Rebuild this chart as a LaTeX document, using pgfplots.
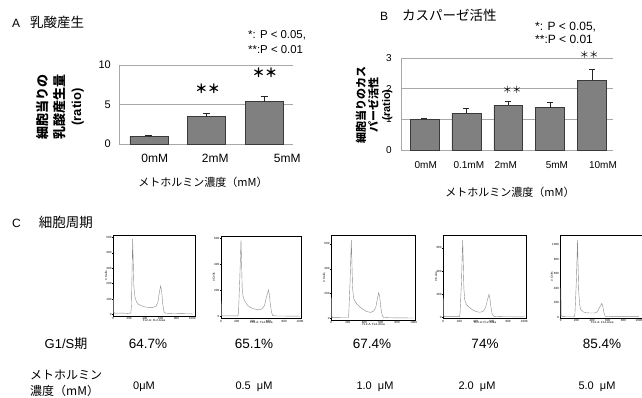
\documentclass[border=0pt]{standalone}
\usepackage{fontspec}
\setmainfont{Liberation Sans}
\newfontfamily\jp{Noto Sans CJK JP}
\usepackage{pgfplots}
\pgfplotsset{compat=1.18}
\definecolor{barfill}{HTML}{808080}
\definecolor{bardraw}{HTML}{3A3A3A}
\definecolor{gridc}{HTML}{A8A8A8}
\definecolor{histc}{HTML}{8A8A8A}
\pgfplotsset{
  hist/.style={scale only axis, anchor=south west,
    axis line style={black, line width=0.5pt},
    tick style={black, line width=0.3pt}, tick align=outside, major tick length=1.2pt,
    xtick pos=bottom, ytick pos=left,
    /pgf/number format/assume math mode=true, /pgf/number format/1000 sep={},
    ticklabel style={font=\fontsize{3}{3.5}\selectfont, inner sep=0.4pt},
    xtick={0,200,...,1000},
    xlabel={FL2-A: FL2-Area}, ylabel={\# Cells},
    label style={font=\fontsize{3}{3.5}\selectfont, inner sep=0.3pt},
    xlabel style={yshift=1.5pt}, ylabel style={yshift=-1.5pt},
    cycle list={{histc, line width=0.6pt}}, no markers},
  bars/.style={scale only axis, anchor=south west,
    axis x line=bottom, axis y line=left, axis line style={gridc, -, line width=0.7pt},
    ymajorgrids, grid style={gridc, line width=0.7pt},
    major tick length=0pt, clip=false,
    /pgf/number format/assume math mode=true,
    ybar, bar shift=0pt}
}
\begin{document}
\begin{tikzpicture}
\path[use as bounding box] (0,0) rectangle (642pt,398pt);
% ---------------- Panel A ----------------
\begin{axis}[bars, at={(119pt,254pt)}, width=174pt, height=79pt,
  xmin=-0.52, xmax=2.5, ymin=0, ymax=10, ytick={0,5,10},
  xtick={0.1,1.15,2.4}, xticklabels={0mM,2mM,5mM},
  yticklabel style={font=\fontsize{11}{13}\selectfont, anchor=east, inner sep=0pt, xshift=-8pt},
  xticklabel style={font=\fontsize{12}{14}\selectfont, anchor=center, yshift=-14pt},
  bar width=0.66]
\addplot[fill=barfill, draw=bardraw, line width=0.6pt,
  error bars/.cd, y dir=plus, y explicit,
  error bar style={line width=0.7pt, black!85},
  error mark options={rotate=90, black!85, line width=0.7pt, mark size=3.5pt}]
  coordinates {(0,1.01) +- (0,0.04) (1,3.46) +- (0,0.42) (2,5.35) +- (0,0.64)};
\node[font=\jp\bfseries\fontsize{12.5}{14}\selectfont] at (axis cs:1.02,6.96) {＊＊};
\node[font=\jp\bfseries\fontsize{12.5}{14}\selectfont] at (axis cs:2.01,9.02) {＊＊};
\end{axis}
% ---------------- Panel B ----------------
\begin{axis}[bars, at={(401pt,248pt)}, width=212pt, height=92pt,
  xmin=-0.56, xmax=4.5, ymin=0, ymax=3, ytick={0,1,2,3},
  xtick={0.03,1.06,1.94,3.16,4.26}, xticklabels={0mM,0.1mM,2mM,5mM,10mM},
  yticklabel style={font=\fontsize{10}{12}\selectfont, anchor=east, inner sep=0pt, xshift=-9pt},
  xticklabel style={font=\fontsize{10}{12}\selectfont, anchor=center, yshift=-15.5pt},
  bar width=0.69]
\addplot[fill=barfill, draw=bardraw, line width=0.6pt,
  error bars/.cd, y dir=plus, y explicit,
  error bar style={line width=0.7pt, black!85},
  error mark options={rotate=90, black!85, line width=0.7pt, mark size=3pt}]
  coordinates {(0,1.0) +- (0,0.04) (1,1.2) +- (0,0.16) (2,1.46) +- (0,0.12) (3,1.38) +- (0,0.16) (4,2.28) +- (0,0.36)};
\node[font=\jp\fontsize{9.5}{11}\selectfont] at (axis cs:2.09,1.96) {＊＊};
\node[font=\jp\fontsize{9.5}{11}\selectfont] at (axis cs:3.93,3.1) {＊＊};
\end{axis}
% ---------------- Panel C histograms ----------------
\begin{axis}[hist, at={(113.3pt,82pt)}, width=81.7pt, height=81pt,
  xmin=0, xmax=1034, ymin=-11, ymax=517, ytick={0,100,...,500}]
\addplot coordinates {(0,6)(3,104)(6,20)(12,8)(60,7)(120,8)(180,6)(222,8)(230,60)(238,300)(245,490)(252,350)(260,180)(275,110)(295,80)(320,65)(360,55)(400,48)(450,45)(500,45)(540,52)(565,80)(585,150)(600,185)(612,150)(625,70)(640,20)(655,8)(700,6)(800,5)(900,4)(1000,3)};
\end{axis}
\begin{axis}[hist, at={(221pt,79.7pt)}, width=80.7pt, height=82.3pt,
  xmin=0, xmax=1021, ymin=-13, ymax=618, ytick={0,200,400,600}]
\addplot coordinates {(0,5)(3,120)(6,15)(12,6)(100,6)(215,6)(222,40)(238,300)(253,587)(260,420)(268,220)(280,150)(300,120)(330,90)(370,70)(420,58)(480,52)(520,60)(550,85)(575,150)(600,204)(612,170)(625,90)(640,30)(655,8)(700,5)(850,4)(1000,3)};
\end{axis}
\begin{axis}[hist, at={(331.3pt,78pt)}, width=84.4pt, height=85pt,
  xmin=0, xmax=1024, ymin=-13, ymax=671, ytick={0,200,400,600}]
\addplot coordinates {(0,5)(3,166)(6,20)(12,6)(205,5)(212,40)(228,300)(243,631)(250,450)(258,250)(270,160)(304,121)(340,95)(380,75)(430,55)(480,48)(515,60)(540,90)(560,160)(575,207)(588,170)(600,90)(615,30)(632,8)(700,5)(1000,3)};
\end{axis}
\begin{axis}[hist, at={(443.3pt,79.7pt)}, width=83.4pt, height=82.6pt,
  xmin=0, xmax=1030, ymin=-9, ymax=706, ytick={0,200,400,600}]
\addplot coordinates {(0,5)(3,164)(6,20)(12,6)(200,5)(207,40)(224,300)(239,668)(246,480)(254,250)(265,150)(288,107)(320,85)(360,65)(400,50)(450,43)(490,50)(520,80)(545,150)(564,199)(576,160)(590,80)(605,25)(625,8)(700,5)(1000,3)};
\end{axis}
\begin{axis}[hist, at={(560.7pt,80pt)}, width=83.3pt, height=83pt,
  xmin=0, xmax=1064, ymin=-14, ymax=1138, ytick={0,200,...,1000}]
\addplot coordinates {(0,5)(3,400)(6,30)(12,8)(175,6)(182,50)(200,500)(215,1069)(222,700)(230,350)(242,170)(256,101)(290,70)(330,58)(380,55)(430,55)(465,70)(495,130)(525,189)(537,150)(550,70)(567,10)(620,6)(1000,4)};
\end{axis}
% ---------------- Texts ----------------
\node[anchor=west, inner sep=0pt] at (12pt,376pt) {\fontsize{12}{14}\selectfont A\hspace{10pt}{\jp\fontsize{13.5}{16}\selectfont 乳酸産生}};
\node[anchor=west, inner sep=0pt] at (380pt,383pt) {\fontsize{12}{14}\selectfont B\hspace{14pt}{\jp\fontsize{13.5}{16}\selectfont カスパーゼ活性}};
\node[anchor=west, inner sep=0pt] at (12pt,176pt) {\fontsize{12}{14}\selectfont C\hspace{18pt}{\jp\fontsize{13.5}{16}\selectfont 細胞周期}};
\node[anchor=west, inner sep=0pt, font=\fontsize{11.4}{13}\selectfont] at (248pt,363pt) {*: P < 0.05,};
\node[anchor=west, inner sep=0pt, font=\fontsize{11.4}{13}\selectfont] at (248pt,348pt) {**:P < 0.01};
\node[anchor=west, inner sep=0pt, font=\fontsize{12}{13}\selectfont] at (535pt,371pt) {*: P < 0.05,};
\node[anchor=west, inner sep=0pt, font=\fontsize{12}{13}\selectfont] at (535pt,359pt) {**:P < 0.01};
\node[rotate=90, align=center, inner sep=0pt, font=\fontsize{13}{17}\selectfont\bfseries] at (60pt,291pt) {{\jp 細胞当りの}\\{\jp 乳酸産生量}\\(ratio)};
\node[inner sep=0pt, font=\jp\fontsize{11}{13}\selectfont] at (203pt,216pt) {メトホルミン濃度（mM）};
\node[rotate=90, align=center, inner sep=0pt, font=\fontsize{11}{12.5}\selectfont\bfseries] at (374pt,293pt) {{\jp 細胞当りのカス}\\{\jp パーゼ活性}\\(ratio)};
\node[inner sep=0pt, font=\jp\fontsize{11}{13}\selectfont] at (510pt,206pt) {メトホルミン濃度（mM）};
\node[inner sep=0pt, font=\fontsize{13}{15}\selectfont] at (66pt,54pt) {G1/S{\jp 期}};
\foreach \xx/\tt in {148/64.7\%, 254/65.1\%, 372/67.4\%, 485/74\%, 602/85.4\%}
  \node[inner sep=0pt, font=\fontsize{13.5}{15}\selectfont] at (\xx pt,54pt) {\tt};
\node[anchor=west, align=left, inner sep=0pt, font=\jp\fontsize{12}{16.5}\selectfont] at (30pt,14.5pt) {メトホルミン\\濃度（mM）};
\foreach \xx/\tt in {144/0μM, 254/0.5\ \ μM, 375/1.0\ \ μM, 477/2.0\ \ μM, 597/5.0\ \ μM}
  \node[inner sep=0pt, font=\fontsize{11}{13}\selectfont] at (\xx pt,11pt) {\tt};
\end{tikzpicture}
\end{document}
